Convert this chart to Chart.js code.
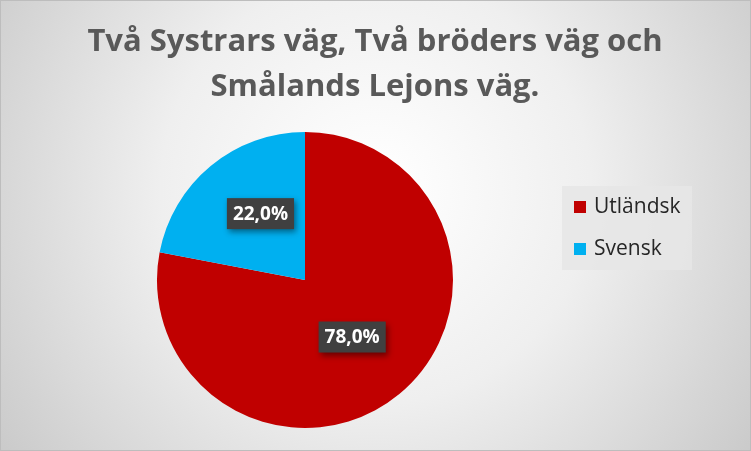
<!DOCTYPE html>
<html>
<head>
<meta charset="utf-8">
<script src="https://cdn.jsdelivr.net/npm/chart.js@4"></script>
<style>
  html, body { margin: 0; padding: 0; background: #fff; }
  #wrap { width: 751px; height: 451px; position: relative; }
</style>
</head>
<body>
<div id="wrap"><canvas id="piechart" width="751" height="451"></canvas></div>
<script>
    // ---------- DADOS ----------
    const titleLines = ["Två Systrars väg, Två bröders väg och", "Smålands Lejons väg."];
    const categories = ["Utländsk", "Svensk"];
    const values = [78.0, 22.0];
    const colors = ["#C00000", "#00B0F0"];

    const FONT = "'Open Sans', 'DejaVu Sans', sans-serif";

    // ---------- FUNDO (gradiente radial tipo Excel) ----------
    const backgroundPlugin = {
        id: "bg",
        beforeDraw(chart) {
            const c = chart.ctx;
            const w = chart.width, h = chart.height;
            c.save();
            const g = c.createRadialGradient(w * 0.5, h * 0.42, 10, w * 0.5, h * 0.42, w * 0.62);
            g.addColorStop(0, "#ffffff");
            g.addColorStop(0.45, "#efefef");
            g.addColorStop(1, "#c9c9c9");
            c.fillStyle = g;
            c.fillRect(0, 0, w, h);
            c.strokeStyle = "#bdbdbd";
            c.lineWidth = 1;
            c.strokeRect(0.5, 0.5, w - 1, h - 1);
            c.restore();
        }
    };

    // ---------- TÍTULO ----------
    const titlePlugin = {
        id: "titulo",
        afterDraw(chart) {
            const c = chart.ctx;
            c.save();
            c.fillStyle = "#595959";
            c.font = "bold 31px " + FONT;
            c.textAlign = "center";
            c.textBaseline = "alphabetic";
            c.fillText(titleLines[0], 375, 51);
            c.fillText(titleLines[1], 375, 96);
            c.restore();
        }
    };

    // ---------- RÓTULOS DE DADOS ----------
    const labelsPlugin = {
        id: "rotulos",
        afterDatasetsDraw(chart) {
            const c = chart.ctx;
            const meta = chart.getDatasetMeta(0);
            const total = values.reduce((a, b) => a + b, 0);
            meta.data.forEach((arc, i) => {
                const p = arc.getProps(["x", "y", "startAngle", "endAngle", "outerRadius"], true);
                // fatias menores ficam um pouco mais perto da borda (como no Excel)
                const frac = values[i] / total;
                const mid = (p.startAngle + p.endAngle) / 2 + (frac < 0.5 ? 0.1 : 0);
                const r = p.outerRadius * (frac < 0.5 ? 0.54 : 0.5);
                const x = p.x + Math.cos(mid) * r;
                const y = p.y + Math.sin(mid) * r;
                const txt = (frac * 100).toFixed(1).replace(".", ",") + "%";
                c.save();
                c.font = "bold 19px " + FONT;
                const tw = c.measureText(txt).width;
                const bw = tw + 12, bh = 31;
                c.shadowColor = "rgba(0,0,0,0.45)";
                c.shadowBlur = 6;
                c.shadowOffsetX = 2;
                c.shadowOffsetY = 3;
                c.fillStyle = "#404040";
                c.fillRect(x - bw / 2, y - bh / 2, bw, bh);
                c.shadowColor = "transparent";
                c.fillStyle = "#ffffff";
                c.textAlign = "center";
                c.textBaseline = "middle";
                c.fillText(txt, x, y + 1);
                c.restore();
            });
        }
    };

    // ---------- LEGENDA ----------
    const legendPlugin = {
        id: "legenda",
        afterDraw(chart) {
            const c = chart.ctx;
            c.save();
            c.fillStyle = "rgba(230,230,230,0.85)";
            c.fillRect(562, 186, 130, 84);
            c.font = "21px " + FONT;
            c.textBaseline = "middle";
            categories.forEach((cat, i) => {
                const y = 207 + i * 42;
                c.fillStyle = colors[i];
                c.fillRect(574, y - 6, 12, 12);
                c.fillStyle = "#262626";
                c.fillText(cat, 594, y);
            });
            c.restore();
        }
    };

    new Chart(document.getElementById("piechart"), {
        type: "pie",
        data: {
            labels: categories,
            datasets: [{
                data: values,
                backgroundColor: colors,
                borderWidth: 0
            }]
        },
        options: {
            responsive: false,
            animation: false,
            devicePixelRatio: 1,
            layout: { padding: { left: 157, right: 298, top: 132, bottom: 23 } },
            plugins: {
                legend: { display: false },
                title: { display: false },
                tooltip: { enabled: false }
            }
        },
        plugins: [backgroundPlugin, titlePlugin, labelsPlugin, legendPlugin]
    });
</script>
</body>
</html>
